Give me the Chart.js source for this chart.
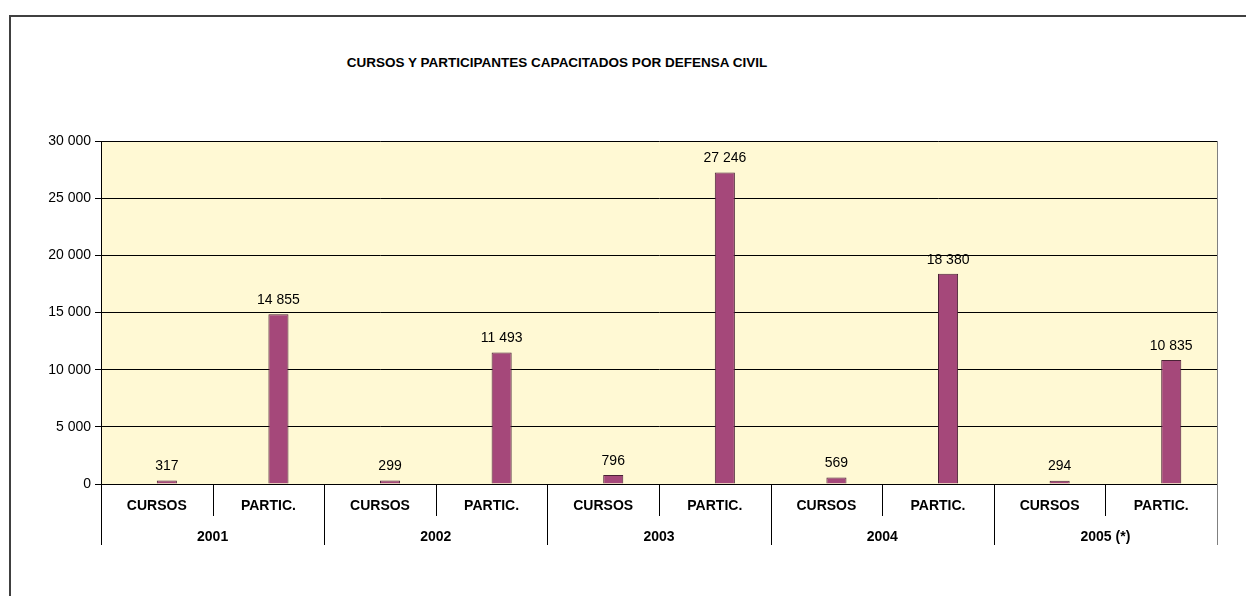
<!DOCTYPE html>
<html>

<head>
  <title>Cursos y participantes capacitados por Defensa Civil</title>
  <script src="https://cdn.jsdelivr.net/npm/chart.js@4.4.0/dist/chart.umd.min.js"></script>
  <style>
    body { margin: 0; background: #fff; overflow: hidden; font-family: "Liberation Sans", Arial, sans-serif; }
    #frame { position: absolute; left: 9px; top: 15px; width: 1400px; height: 800px; border-left: 2px solid #404040; border-top: 2px solid #404040; }
    #title { position: absolute; left: 0; top: 55px; width: 1114px; text-align: center; font-weight: bold; font-size: 13.5px; color: #000; }
    #wrap { position: absolute; left: 0; top: 0; width: 1246px; height: 596px; }
  </style>
</head>

<body>
  <div id="frame"></div>
  <div id="title">CURSOS Y PARTICIPANTES CAPACITADOS POR DEFENSA CIVIL</div>
  <div id="wrap"><canvas id="chart" width="1246" height="596"></canvas></div>

  <script>
    // data
    const categories = ['CURSOS', 'PARTIC.', 'CURSOS', 'PARTIC.', 'CURSOS', 'PARTIC.', 'CURSOS', 'PARTIC.', 'CURSOS', 'PARTIC.'];
    const years = ['2001', '2002', '2003', '2004', '2005 (*)'];
    const values = [317, 14855, 299, 11493, 796, 27246, 569, 18380, 294, 10835];
    const emptySeries = [null, null, null, null, null, null, null, null, null, null];

    const FONT = '"Liberation Sans", Arial, sans-serif';
    const fmt = (v) => String(v).replace(/\B(?=(\d{3})+(?!\d))/g, ' ');

    // yellow plot background, grey right edge, category / year dividers
    const plotBg = {
      id: 'plotBg',
      beforeDraw(chart) {
        const { ctx, chartArea: a } = chart;
        ctx.save();
        ctx.fillStyle = '#FFF9D4';
        ctx.fillRect(a.left, a.top, a.right - a.left, a.bottom - a.top);
        ctx.restore();
      },
      afterDraw(chart) {
        const { ctx, chartArea: a } = chart;
        const xs = chart.scales.x;
        const n = categories.length;
        const step = (xs.right - xs.left) / n;
        ctx.save();
        ctx.lineWidth = 1;
        ctx.strokeStyle = '#808080';
        ctx.beginPath();
        ctx.moveTo(Math.round(a.right) + 0.5, a.top);
        ctx.lineTo(Math.round(a.right) + 0.5, a.bottom);
        ctx.stroke();
        for (let i = 0; i <= n; i++) {
          const x = Math.round(xs.left + i * step) + 0.5;
          const len = i % 2 === 0 ? 61 : 32;
          ctx.strokeStyle = i === n ? '#808080' : '#000';
          ctx.beginPath();
          ctx.moveTo(x, a.bottom);
          ctx.lineTo(x, a.bottom + len);
          ctx.stroke();
        }
        ctx.restore();
      }
    };

    // value labels over the bars
    const valueLabels = {
      id: 'valueLabels',
      afterDatasetsDraw(chart) {
        const { ctx } = chart;
        const meta = chart.getDatasetMeta(1);
        ctx.save();
        ctx.font = '14px ' + FONT;
        ctx.fillStyle = '#000';
        ctx.textAlign = 'center';
        ctx.textBaseline = 'middle';
        meta.data.forEach((bar, i) => {
          ctx.fillText(fmt(values[i]), bar.x, bar.y - 14);
        });
        ctx.restore();
      }
    };

    const ctx = document.getElementById('chart').getContext('2d');
    new Chart(ctx, {
      type: 'bar',
      data: {
        labels: categories,
        datasets: [{
          label: '',
          data: emptySeries,
        }, {
          label: 'Capacitados',
          data: values,
          backgroundColor: '#A5487A',
          borderColor: '#4A2236',
          borderWidth: 1,
        }],
      },
      options: {
        responsive: false,
        animation: false,
        categoryPercentage: 0.36,
        barPercentage: 1,
        layout: { padding: { top: 141, right: 29, bottom: 51, left: 0 } },
        plugins: {
          legend: { display: false },
          tooltip: { enabled: false },
        },
        scales: {
          x: {
            position: 'bottom',
            afterFit(scale) { scale.height = 30; },
            border: { display: true, color: '#000' },
            grid: { display: false, drawTicks: false },
            ticks: {
              autoSkip: false, maxRotation: 0, padding: 13.5, color: '#000',
              font: { family: FONT, size: 14, weight: 'bold' },
            },
          },
          x2: {
            type: 'category',
            labels: years,
            position: 'bottom',
            offset: true,
            afterFit(scale) { scale.height = 31; },
            border: { display: false },
            grid: { display: false, drawTicks: false },
            ticks: {
              autoSkip: false, maxRotation: 0, padding: 14.3, color: '#000',
              font: { family: FONT, size: 14, weight: 'bold' },
            },
          },
          y: {
            min: 0,
            max: 30000,
            afterFit(scale) { scale.width = 101; },
            border: { display: true, color: '#000' },
            grid: { color: '#000', tickLength: 6 },
            ticks: {
              stepSize: 5000, padding: 4, color: '#000',
              font: { family: FONT, size: 14 },
              callback: (v) => fmt(v),
            },
          },
        },
      },
      plugins: [plotBg, valueLabels],
    });
  </script>
</body>

</html>
